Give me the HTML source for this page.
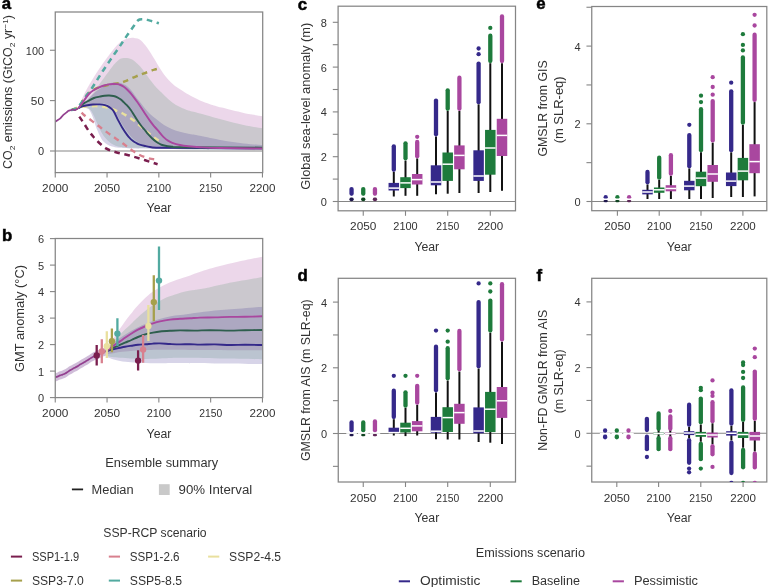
<!DOCTYPE html>
<html><head><meta charset="utf-8"><title>Figure</title>
<style>html,body{margin:0;padding:0;background:#fff;width:768px;height:587px;overflow:hidden}svg{display:block;filter:blur(0.3px)}</style>
</head><body>
<svg width="768" height="587" viewBox="0 0 768 587" font-family='"Liberation Sans", Arial, sans-serif'>
<g>
<clipPath id="ca"><rect x="55.25" y="12" width="207.45" height="160.6"/></clipPath>
<g clip-path="url(#ca)">
<path d="M78.7,108 C79.08,106.83 79.95,103.58 81,101 C82.05,98.42 83.5,95.42 85,92.5 C86.5,89.58 88.25,86.5 90,83.5 C91.75,80.5 93.67,77.37 95.5,74.5 C97.33,71.63 99.17,68.95 101,66.3 C102.83,63.65 104.67,61.12 106.5,58.6 C108.33,56.08 110.25,53.43 112,51.2 C113.75,48.97 115.42,46.85 117,45.2 C118.58,43.55 120,42.33 121.5,41.3 C123,40.27 124.5,39.53 126,39 C127.5,38.47 129.17,38.28 130.5,38.1 C131.83,37.92 132.83,37.82 134,37.9 C135.17,37.98 136.33,38.15 137.5,38.6 C138.67,39.05 139.92,39.73 141,40.6 C142.08,41.47 142.97,42.62 144,43.8 C145.03,44.98 146.03,46.08 147.2,47.7 C148.37,49.32 149.7,51.45 151,53.5 C152.3,55.55 153.6,57.67 155,60 C156.4,62.33 157.9,65.08 159.4,67.5 C160.9,69.92 162.38,72.33 164,74.5 C165.62,76.67 167.27,78.58 169.1,80.5 C170.93,82.42 172.85,84.33 175,86 C177.15,87.67 179.75,89.07 182,90.5 C184.25,91.93 185.5,92.92 188.5,94.6 C191.5,96.28 196.42,99 200,100.6 C203.58,102.2 206.37,103.03 210,104.2 C213.63,105.37 216.2,106.15 221.8,107.6 C227.4,109.05 236.78,111.47 243.6,112.9 C250.42,114.33 259.52,115.65 262.7,116.2 L262.7,149.6 C252.25,149.47 217.12,149.13 200,148.8 C182.88,148.47 168.92,148.1 160,147.6 C151.08,147.1 149.83,146.52 146.5,145.8 C143.17,145.08 141.85,144.18 140,143.3 C138.15,142.42 136.9,141.63 135.4,140.5 C133.9,139.37 132.4,138 131,136.5 C129.6,135 128.5,133.58 127,131.5 C125.5,129.42 123.5,126.42 122,124 C120.5,121.58 119.33,119.25 118,117 C116.67,114.75 115.33,112.3 114,110.5 C112.67,108.7 111.33,107.28 110,106.2 C108.67,105.12 107.67,104.47 106,104 C104.33,103.53 102.67,103.37 100,103.4 C97.33,103.43 92.5,103.85 90,104.2 C87.5,104.55 86.88,104.87 85,105.5 C83.12,106.13 79.75,107.58 78.7,108 Z" fill="#a9479f" fill-opacity="0.22"/>
<path d="M78.7,108 C79.58,107.33 82.35,105.5 84,104 C85.65,102.5 86.7,101.33 88.6,99 C90.5,96.67 93.17,93.08 95.4,90 C97.63,86.92 99.72,83.68 102,80.5 C104.28,77.32 107.1,73.57 109.1,70.9 C111.1,68.23 112.42,66.32 114,64.5 C115.58,62.68 117.27,61.03 118.6,60 C119.93,58.97 120.87,58.65 122,58.3 C123.13,57.95 124.32,57.92 125.4,57.9 C126.48,57.88 127.37,57.93 128.5,58.2 C129.63,58.47 130.95,58.78 132.2,59.5 C133.45,60.22 134.63,61.28 136,62.5 C137.37,63.72 138.98,65.22 140.4,66.8 C141.82,68.38 143.13,70.18 144.5,72 C145.87,73.82 146.85,75.38 148.6,77.7 C150.35,80.02 152.93,83.52 155,85.9 C157.07,88.28 159.17,90.15 161,92 C162.83,93.85 164.12,95.25 166,97 C167.88,98.75 169.97,100.83 172.3,102.5 C174.63,104.17 177.3,105.67 180,107 C182.7,108.33 185.17,109.43 188.5,110.5 C191.83,111.57 194.45,111.92 200,113.4 C205.55,114.88 214.53,117.48 221.8,119.4 C229.07,121.32 236.78,123.43 243.6,124.9 C250.42,126.37 259.52,127.65 262.7,128.2 L262.7,150.1 C252.25,150 217.12,149.73 200,149.5 C182.88,149.27 171.67,148.98 160,148.7 C148.33,148.42 137,148.17 130,147.8 C123,147.43 121.33,147.38 118,146.5 C114.67,145.62 112.17,144 110,142.5 C107.83,141 106.5,139.33 105,137.5 C103.5,135.67 102.33,133.92 101,131.5 C99.67,129.08 98.25,125.75 97,123 C95.75,120.25 94.67,117.25 93.5,115 C92.33,112.75 91.25,110.67 90,109.5 C88.75,108.33 87.88,108.25 86,108 C84.12,107.75 79.92,108 78.7,108 Z" fill="#1e7b3c" fill-opacity="0.16"/>
<path d="M78.7,108 C79.58,107.17 82.12,104.83 84,103 C85.88,101.17 88,98.92 90,97 C92,95.08 93.95,93.13 96,91.5 C98.05,89.87 100.3,88.45 102.3,87.2 C104.3,85.95 106.18,84.77 108,84 C109.82,83.23 111.43,82.83 113.2,82.6 C114.97,82.37 116.97,82.37 118.6,82.6 C120.23,82.83 121.63,83.43 123,84 C124.37,84.57 125.47,85 126.8,86 C128.13,87 129.63,88.42 131,90 C132.37,91.58 133.5,93.5 135,95.5 C136.5,97.5 138.33,99.83 140,102 C141.67,104.17 143.33,106.5 145,108.5 C146.67,110.5 148.13,112.25 150,114 C151.87,115.75 153.87,117.17 156.2,119 C158.53,120.83 161.32,123.28 164,125 C166.68,126.72 169.63,128.17 172.3,129.3 C174.97,130.43 177.3,131.05 180,131.8 C182.7,132.55 185.17,133.13 188.5,133.8 C191.83,134.47 194.45,134.73 200,135.8 C205.55,136.87 214.53,138.93 221.8,140.2 C229.07,141.47 236.78,142.58 243.6,143.4 C250.42,144.22 259.52,144.82 262.7,145.1 L262.7,150.2 C252.25,150.1 217.12,149.82 200,149.6 C182.88,149.38 171.67,149.1 160,148.9 C148.33,148.7 136.87,148.58 130,148.4 C123.13,148.22 121.8,148.12 118.8,147.8 C115.8,147.48 113.85,147 112,146.5 C110.15,146 109.03,145.55 107.7,144.8 C106.37,144.05 105.12,143.13 104,142 C102.88,140.87 102.23,140.25 101,138 C99.77,135.75 97.88,131.75 96.6,128.5 C95.32,125.25 94.4,121.42 93.3,118.5 C92.2,115.58 90.97,112.67 90,111 C89.03,109.33 88.5,109 87.5,108.5 C86.5,108 85.47,108.08 84,108 C82.53,107.92 79.58,108 78.7,108 Z" fill="#35298a" fill-opacity="0.2"/>
<line x1="49.95" y1="151" x2="262.7" y2="151" stroke="#858585" stroke-width="1.1"/>
<path d="M81.6,112.6 C82,113 82.77,113.97 84,115 C85.23,116.03 87.07,117.35 89,118.8 C90.93,120.25 93.43,122.07 95.6,123.7 C97.77,125.33 99.73,126.9 102,128.6 C104.27,130.3 106.87,132.22 109.2,133.9 C111.53,135.58 113.75,137.13 116,138.7 C118.25,140.27 120.7,141.87 122.7,143.3 C124.7,144.73 126.2,145.97 128,147.3 C129.8,148.63 131.67,150.08 133.5,151.3 C135.33,152.52 137.18,153.65 139,154.6 C140.82,155.55 142.57,156.33 144.4,157 C146.23,157.67 148.4,158.23 150,158.6 C151.6,158.97 152.63,159.03 154,159.2 C155.37,159.37 157.5,159.53 158.2,159.6" fill="none" stroke="#d8808e" stroke-width="2.4" stroke-linecap="butt" stroke-linejoin="round" stroke-dasharray="5.6 4.6" stroke-opacity="1"/>
<path d="M79.3,116.6 C80.08,117.75 82.4,121.08 84,123.5 C85.6,125.92 87.3,128.85 88.9,131.1 C90.5,133.35 92.03,135.18 93.6,137 C95.17,138.82 96.82,140.53 98.3,142 C99.78,143.47 101.13,144.68 102.5,145.8 C103.87,146.92 105.08,147.88 106.5,148.7 C107.92,149.52 109.43,150.12 111,150.7 C112.57,151.28 114.07,151.7 115.9,152.2 C117.73,152.7 119.73,153.15 122,153.7 C124.27,154.25 127.17,154.88 129.5,155.5 C131.83,156.12 133.75,156.72 136,157.4 C138.25,158.08 140.67,158.87 143,159.6 C145.33,160.33 147.57,161.03 150,161.8 C152.43,162.57 156.33,163.8 157.6,164.2" fill="none" stroke="#7a1e4e" stroke-width="2.5" stroke-linecap="butt" stroke-linejoin="round" stroke-dasharray="5.6 4.6" stroke-opacity="1"/>
<path d="M72,109.6 C73.12,109.2 76.53,107.7 78.7,107.2 C80.87,106.7 83.12,106.75 85,106.6 C86.88,106.45 88.23,106.38 90,106.3 C91.77,106.22 93.6,106.05 95.6,106.1 C97.6,106.15 99.73,106.27 102,106.6 C104.27,106.93 106.87,107.43 109.2,108.1 C111.53,108.77 113.75,109.7 116,110.6 C118.25,111.5 120.7,112.5 122.7,113.5 C124.7,114.5 126.2,115.47 128,116.6 C129.8,117.73 131.83,119.07 133.5,120.3 C135.17,121.53 136.42,122.65 138,124 C139.58,125.35 141.33,126.97 143,128.4 C144.67,129.83 146.42,131.27 148,132.6 C149.58,133.93 151.07,135.28 152.5,136.4 C153.93,137.52 155.53,138.57 156.6,139.3 C157.67,140.03 158.52,140.55 158.9,140.8" fill="none" stroke="#e9e09e" stroke-width="2.5" stroke-linecap="butt" stroke-linejoin="round" stroke-dasharray="5.6 4.6" stroke-opacity="1"/>
<path d="M72,109.6 C73.12,109.25 76.7,109.27 78.7,107.5 C80.7,105.73 82.3,101.42 84,99 C85.7,96.58 87.23,94.58 88.9,93 C90.57,91.42 92.15,90.5 94,89.5 C95.85,88.5 98,87.67 100,87 C102,86.33 104,85.97 106,85.5 C108,85.03 110.17,84.53 112,84.2 C113.83,83.87 115.5,83.75 117,83.5 C118.5,83.25 119.6,83.1 121,82.7 C122.4,82.3 123.9,81.72 125.4,81.1 C126.9,80.48 128.18,79.8 130,79 C131.82,78.2 134.47,77.05 136.3,76.3 C138.13,75.55 139.18,75.18 141,74.5 C142.82,73.82 145.37,72.88 147.2,72.2 C149.03,71.52 150.7,70.85 152,70.4 C153.3,69.95 153.85,69.82 155,69.5 C156.15,69.18 158.25,68.67 158.9,68.5" fill="none" stroke="#a6a04c" stroke-width="2.5" stroke-linecap="butt" stroke-linejoin="round" stroke-dasharray="5.6 4.6" stroke-opacity="1"/>
<path d="M70.8,110 C71.33,109.88 72.68,109.92 74,109.3 C75.32,108.68 77.03,108.02 78.7,106.3 C80.37,104.58 81.97,101.78 84,99 C86.03,96.22 88.87,92.52 90.9,89.6 C92.93,86.68 94.52,84.13 96.2,81.5 C97.88,78.87 99.37,76.33 101,73.8 C102.63,71.27 104.17,69.02 106,66.3 C107.83,63.58 109.97,60.45 112,57.5 C114.03,54.55 116.45,51.13 118.2,48.6 C119.95,46.07 121.13,44.33 122.5,42.3 C123.87,40.27 125.07,38.35 126.4,36.4 C127.73,34.45 129.18,32.47 130.5,30.6 C131.82,28.73 133.18,26.77 134.3,25.2 C135.42,23.63 136.32,22.15 137.2,21.2 C138.08,20.25 138.8,19.83 139.6,19.5 C140.4,19.17 141.18,19.22 142,19.2 C142.82,19.18 143.63,19.28 144.5,19.4 C145.37,19.52 146.28,19.7 147.2,19.9 C148.12,20.1 148.95,20.32 150,20.6 C151.05,20.88 152.4,21.27 153.5,21.6 C154.6,21.93 155.7,22.32 156.6,22.6 C157.5,22.88 158.52,23.18 158.9,23.3" fill="none" stroke="#52aaa0" stroke-width="2.5" stroke-linecap="butt" stroke-linejoin="round" stroke-dasharray="5.6 4.6" stroke-opacity="1"/>
<path d="M78.7,108 C79.42,107.7 81.53,106.67 83,106.2 C84.47,105.73 85.83,105.48 87.5,105.2 C89.17,104.92 90.97,104.63 93,104.5 C95.03,104.37 97.7,104.3 99.7,104.4 C101.7,104.5 103.62,104.78 105,105.1 C106.38,105.42 107.08,105.82 108,106.3 C108.92,106.78 109.58,107.2 110.5,108 C111.42,108.8 112.28,109.17 113.5,111.1 C114.72,113.03 116.38,116.92 117.8,119.6 C119.22,122.28 120.45,124.65 122,127.2 C123.55,129.75 125.77,133.05 127.1,134.9 C128.43,136.75 129,137.3 130,138.3 C131,139.3 132.1,140.15 133.1,140.9 C134.1,141.65 135.02,142.23 136,142.8 C136.98,143.37 137.5,143.77 139,144.3 C140.5,144.83 143.17,145.55 145,146 C146.83,146.45 147.67,146.72 150,147 C152.33,147.28 150.67,147.52 159,147.7 C167.33,147.88 182.72,148 200,148.1 C217.28,148.2 252.25,148.27 262.7,148.3" fill="none" stroke="#35298a" stroke-width="1.9" stroke-linecap="butt" stroke-linejoin="round" stroke-opacity="1"/>
<path d="M78.7,108 C79.42,107.33 81.3,105.23 83,104 C84.7,102.77 87.07,101.6 88.9,100.6 C90.73,99.6 92.2,98.67 94,98 C95.8,97.33 97.95,96.98 99.7,96.6 C101.45,96.22 102.92,95.88 104.5,95.7 C106.08,95.52 107.7,95.45 109.2,95.5 C110.7,95.55 112.15,95.7 113.5,96 C114.85,96.3 116.13,96.75 117.3,97.3 C118.47,97.85 119.47,98.52 120.5,99.3 C121.53,100.08 122.45,101.02 123.5,102 C124.55,102.98 125.58,103.87 126.8,105.2 C128.02,106.53 129.6,108.37 130.8,110 C132,111.63 132.88,113.25 134,115 C135.12,116.75 136.33,118.75 137.5,120.5 C138.67,122.25 139.85,124 141,125.5 C142.15,127 143.22,128.05 144.4,129.5 C145.58,130.95 146.83,132.75 148.1,134.2 C149.37,135.65 150.65,136.95 152,138.2 C153.35,139.45 154.87,140.73 156.2,141.7 C157.53,142.67 158.67,143.37 160,144 C161.33,144.63 162.2,145.05 164.2,145.5 C166.2,145.95 169.3,146.42 172,146.7 C174.7,146.98 165.28,147.05 180.4,147.2 C195.52,147.35 248.98,147.53 262.7,147.6" fill="none" stroke="#2e5e4e" stroke-width="1.9" stroke-linecap="butt" stroke-linejoin="round" stroke-opacity="1"/>
<path d="M78.7,108 C79.42,107 81.3,104.33 83,102 C84.7,99.67 87.07,96 88.9,94 C90.73,92 92.2,91.15 94,90 C95.8,88.85 98.03,87.85 99.7,87.1 C101.37,86.35 102.53,85.95 104,85.5 C105.47,85.05 107,84.65 108.5,84.4 C110,84.15 111.53,84.05 113,84 C114.47,83.95 116.05,83.93 117.3,84.1 C118.55,84.27 119.42,84.55 120.5,85 C121.58,85.45 122.75,86.08 123.8,86.8 C124.85,87.52 125.77,88.35 126.8,89.3 C127.83,90.25 128.88,91.25 130,92.5 C131.12,93.75 132.25,95.17 133.5,96.8 C134.75,98.43 136.13,100.35 137.5,102.3 C138.87,104.25 140.32,106.42 141.7,108.5 C143.08,110.58 144.45,112.78 145.8,114.8 C147.15,116.82 148.47,118.77 149.8,120.6 C151.13,122.43 152.45,124.17 153.8,125.8 C155.15,127.43 156.7,129 157.9,130.4 C159.1,131.8 159.95,133 161,134.2 C162.05,135.4 163.03,136.53 164.2,137.6 C165.37,138.67 166.65,139.73 168,140.6 C169.35,141.47 170.3,142.07 172.3,142.8 C174.3,143.53 177.3,144.42 180,145 C182.7,145.58 185.17,145.93 188.5,146.3 C191.83,146.67 194.75,146.92 200,147.2 C205.25,147.48 209.55,147.78 220,148 C230.45,148.22 255.58,148.42 262.7,148.5" fill="none" stroke="#a9479f" stroke-width="1.9" stroke-linecap="butt" stroke-linejoin="round" stroke-opacity="1"/>
<path d="M55.25,121.8 C55.62,121.55 56.71,120.83 57.5,120.3 C58.29,119.77 59.17,119.35 60,118.6 C60.83,117.85 61.67,116.63 62.5,115.8 C63.33,114.97 64.25,114.23 65,113.6 C65.75,112.97 66.42,112.47 67,112 C67.58,111.53 67.92,111.1 68.5,110.8 C69.08,110.5 69.82,110.4 70.5,110.2 C71.18,110 71.8,109.62 72.6,109.6 C73.4,109.58 74.57,110.2 75.3,110.1 C76.03,110 76.43,109.35 77,109 C77.57,108.65 78.42,108.17 78.7,108" fill="none" stroke="#93408f" stroke-width="1.7" stroke-linecap="butt" stroke-linejoin="round" stroke-opacity="1"/>
</g>
<rect x="55.25" y="12" width="207.45" height="160.6" fill="none" stroke="#858585" stroke-width="1.25"/>
<line x1="49.95" y1="151" x2="55.25" y2="151" stroke="#858585" stroke-width="1.1"/>
<text x="44.05" y="155.45" font-size="11" text-anchor="end" font-weight="normal" fill="#333">0</text>
<line x1="49.95" y1="100.6" x2="55.25" y2="100.6" stroke="#858585" stroke-width="1.1"/>
<text x="44.05" y="105.05" font-size="11" text-anchor="end" font-weight="normal" fill="#333" textLength="13.2" lengthAdjust="spacingAndGlyphs">50</text>
<line x1="49.95" y1="50.25" x2="55.25" y2="50.25" stroke="#858585" stroke-width="1.1"/>
<text x="44.05" y="54.7" font-size="11" text-anchor="end" font-weight="normal" fill="#333" textLength="18.2" lengthAdjust="spacingAndGlyphs">100</text>
<line x1="55.25" y1="172.6" x2="55.25" y2="177.6" stroke="#858585" stroke-width="1.1"/>
<text x="55.25" y="192.1" font-size="11" text-anchor="middle" font-weight="normal" fill="#333" textLength="26.3" lengthAdjust="spacingAndGlyphs">2000</text>
<line x1="107.05" y1="172.6" x2="107.05" y2="177.6" stroke="#858585" stroke-width="1.1"/>
<text x="107.05" y="192.1" font-size="11" text-anchor="middle" font-weight="normal" fill="#333" textLength="26.3" lengthAdjust="spacingAndGlyphs">2050</text>
<line x1="158.85" y1="172.6" x2="158.85" y2="177.6" stroke="#858585" stroke-width="1.1"/>
<text x="158.85" y="192.1" font-size="11" text-anchor="middle" font-weight="normal" fill="#333" textLength="24.4" lengthAdjust="spacingAndGlyphs">2100</text>
<line x1="210.65" y1="172.6" x2="210.65" y2="177.6" stroke="#858585" stroke-width="1.1"/>
<text x="210.65" y="192.1" font-size="11" text-anchor="middle" font-weight="normal" fill="#333" textLength="23" lengthAdjust="spacingAndGlyphs">2150</text>
<line x1="262.45" y1="172.6" x2="262.45" y2="177.6" stroke="#858585" stroke-width="1.1"/>
<text x="262.45" y="192.1" font-size="11" text-anchor="middle" font-weight="normal" fill="#333" textLength="25.8" lengthAdjust="spacingAndGlyphs">2200</text>
<text x="159" y="212.3" font-size="12" text-anchor="middle" font-weight="normal" fill="#333" textLength="24.8" lengthAdjust="spacingAndGlyphs">Year</text>
<text x="12.3" y="92.05" font-size="12" text-anchor="middle" fill="#333" transform="rotate(-90 12.3 92.05)" textLength="154" lengthAdjust="spacingAndGlyphs">CO<tspan font-size="8" dy="2.5">2</tspan><tspan dy="-2.5"> emissions (GtCO</tspan><tspan font-size="8" dy="2.5">2</tspan><tspan dy="-2.5"> yr</tspan><tspan font-size="8" dy="-4">−1</tspan><tspan dy="4">)</tspan></text>
<text x="1.7" y="9.4" font-size="16.8" font-weight="bold" fill="#000" stroke="#000" stroke-width="0.5">a</text>
</g>
<clipPath id="cb"><rect x="55.25" y="238.5" width="207.45" height="159.1"/></clipPath>
<g clip-path="url(#cb)">
<path d="M55.25,373 C55.62,372.9 56.71,372.7 57.5,372.4 C58.29,372.1 59.17,371.53 60,371.2 C60.83,370.87 61.63,370.72 62.5,370.4 C63.37,370.08 64.37,369.73 65.2,369.3 C66.03,368.87 66.7,368.33 67.5,367.8 C68.3,367.27 69.17,366.6 70,366.1 C70.83,365.6 71.6,365.28 72.5,364.8 C73.4,364.32 74.48,363.7 75.4,363.2 C76.32,362.7 77.23,362.27 78,361.8 C78.77,361.33 79.17,360.9 80,360.4 C80.83,359.9 82.07,359.33 83,358.8 C83.93,358.27 84.77,357.7 85.6,357.2 C86.43,356.7 87.27,356.27 88,355.8 C88.73,355.33 89.33,354.83 90,354.4 C90.67,353.97 91.32,353.58 92,353.2 C92.68,352.82 93.18,352.53 94.1,352.1 C95.02,351.67 96.35,351.12 97.5,350.6 C98.65,350.08 100,349.45 101,349 C102,348.55 102.67,348.23 103.5,347.9 C104.33,347.57 105.58,347.15 106,347 L106,355.4 C105.58,355.55 104.33,355.97 103.5,356.3 C102.67,356.63 102,356.95 101,357.4 C100,357.85 98.65,358.48 97.5,359 C96.35,359.52 95.02,360.07 94.1,360.5 C93.18,360.93 92.68,361.22 92,361.6 C91.32,361.98 90.67,362.37 90,362.8 C89.33,363.23 88.73,363.73 88,364.2 C87.27,364.67 86.43,365.1 85.6,365.6 C84.77,366.1 83.93,366.67 83,367.2 C82.07,367.73 80.83,368.3 80,368.8 C79.17,369.3 78.77,369.73 78,370.2 C77.23,370.67 76.32,371.1 75.4,371.6 C74.48,372.1 73.4,372.72 72.5,373.2 C71.6,373.68 70.83,374 70,374.5 C69.17,375 68.3,375.67 67.5,376.2 C66.7,376.73 66.03,377.27 65.2,377.7 C64.37,378.13 63.37,378.48 62.5,378.8 C61.63,379.12 60.83,379.27 60,379.6 C59.17,379.93 58.29,380.5 57.5,380.8 C56.71,381.1 55.62,381.3 55.25,381.4 Z" fill="#8a5aa0" fill-opacity="0.4"/>
<path d="M106,348 C106.5,347.5 108,346.25 109,345 C110,343.75 110.83,342.25 112,340.5 C113.17,338.75 114.67,336.48 116,334.5 C117.33,332.52 118.5,330.77 120,328.6 C121.5,326.43 123.17,323.97 125,321.5 C126.83,319.03 129.17,316.13 131,313.8 C132.83,311.47 134.15,309.63 136,307.5 C137.85,305.37 140.1,303 142.1,301 C144.1,299 146.18,297.08 148,295.5 C149.82,293.92 150.28,293.25 153,291.5 C155.72,289.75 160.63,286.83 164.3,285 C167.97,283.17 171.32,281.87 175,280.5 C178.68,279.13 181.58,278.47 186.4,276.8 C191.22,275.13 197.02,272.63 203.9,270.5 C210.78,268.37 220.85,265.72 227.7,264 C234.55,262.28 239.17,261.42 245,260.2 C250.83,258.98 259.75,257.28 262.7,256.7 L262.7,350.3 C252.25,350.25 217.12,350.08 200,350 C182.88,349.92 169.67,349.75 160,349.8 C150.33,349.85 146.83,350.1 142,350.3 C137.17,350.5 134.67,350.72 131,351 C127.33,351.28 123.17,351.58 120,352 C116.83,352.42 114.33,353.08 112,353.5 C109.67,353.92 107,354.33 106,354.5 Z" fill="#a9479f" fill-opacity="0.22"/>
<path d="M106,348.5 C106.67,347.92 108.5,346.5 110,345 C111.5,343.5 113.33,341.25 115,339.5 C116.67,337.75 118.33,336.17 120,334.5 C121.67,332.83 123.33,331.08 125,329.5 C126.67,327.92 128.33,326.58 130,325 C131.67,323.42 132.98,321.92 135,320 C137.02,318.08 139.1,316 142.1,313.5 C145.1,311 149.3,307.5 153,305 C156.7,302.5 160.63,300.25 164.3,298.5 C167.97,296.75 171.32,295.72 175,294.5 C178.68,293.28 181.58,292.2 186.4,291.2 C191.22,290.2 197.02,289.83 203.9,288.5 C210.78,287.17 217.9,285.12 227.7,283.2 C237.5,281.28 256.87,278.03 262.7,277 L262.7,359.3 C255.58,359.17 233.78,358.75 220,358.5 C206.22,358.25 190,357.8 180,357.8 C170,357.8 166.33,358.3 160,358.5 C153.67,358.7 146.83,359 142,359 C137.17,359 134.67,358.7 131,358.5 C127.33,358.3 123.17,358.05 120,357.8 C116.83,357.55 114.33,357.38 112,357 C109.67,356.62 107,355.75 106,355.5 Z" fill="#1e7b3c" fill-opacity="0.16"/>
<path d="M106,349 C107,348.17 109.67,345.83 112,344 C114.33,342.17 116.83,340.17 120,338 C123.17,335.83 127.32,333.12 131,331 C134.68,328.88 138.43,326.97 142.1,325.3 C145.77,323.63 149.3,322.27 153,321 C156.7,319.73 160.63,318.6 164.3,317.7 C167.97,316.8 171.32,316.17 175,315.6 C178.68,315.03 181.58,314.93 186.4,314.3 C191.22,313.67 197.02,312.58 203.9,311.8 C210.78,311.02 217.9,310.43 227.7,309.6 C237.5,308.77 256.87,307.27 262.7,306.8 L262.7,364.1 C255.58,364 233.78,363.68 220,363.5 C206.22,363.32 190,363.05 180,363 C170,362.95 166.33,363.2 160,363.2 C153.67,363.2 146.83,363.15 142,363 C137.17,362.85 134.67,362.63 131,362.3 C127.33,361.97 123.17,361.55 120,361 C116.83,360.45 114.33,359.75 112,359 C109.67,358.25 107,356.92 106,356.5 Z" fill="#35298a" fill-opacity="0.2"/>
<path d="M106,351.2 C106.67,351.03 108.67,350.53 110,350.2 C111.33,349.87 112.33,349.6 114,349.2 C115.67,348.8 118.17,348.22 120,347.8 C121.83,347.38 123.08,347.05 125,346.7 C126.92,346.35 129.33,346.02 131.5,345.7 C133.67,345.38 135.58,345.05 138,344.8 C140.42,344.55 143.5,344.4 146,344.2 C148.5,344 150.67,343.73 153,343.6 C155.33,343.47 157.17,343.33 160,343.4 C162.83,343.47 166.67,343.83 170,344 C173.33,344.17 176.67,344.37 180,344.4 C183.33,344.43 186.67,344.17 190,344.2 C193.33,344.23 195.83,344.57 200,344.6 C204.17,344.63 210,344.33 215,344.4 C220,344.47 225,344.93 230,345 C235,345.07 239.55,344.8 245,344.8 C250.45,344.8 259.75,344.97 262.7,345" fill="none" stroke="#35298a" stroke-width="1.9" stroke-linecap="butt" stroke-linejoin="round" stroke-opacity="1"/>
<path d="M106,351.2 C106.67,350.92 108.67,350.15 110,349.5 C111.33,348.85 112.33,348.08 114,347.3 C115.67,346.52 118.17,345.58 120,344.8 C121.83,344.02 123.08,343.4 125,342.6 C126.92,341.8 129.33,340.93 131.5,340 C133.67,339.07 135.58,337.97 138,337 C140.42,336.03 143.5,334.93 146,334.2 C148.5,333.47 150.67,333.05 153,332.6 C155.33,332.15 157.17,331.8 160,331.5 C162.83,331.2 166.67,330.98 170,330.8 C173.33,330.62 175.83,330.43 180,330.4 C184.17,330.37 190,330.63 195,330.6 C200,330.57 204.17,330.2 210,330.2 C215.83,330.2 224.17,330.6 230,330.6 C235.83,330.6 239.55,330.3 245,330.2 C250.45,330.1 259.75,330.03 262.7,330" fill="none" stroke="#2e5e4e" stroke-width="1.9" stroke-linecap="butt" stroke-linejoin="round" stroke-opacity="1"/>
<path d="M106,351.2 C106.67,350.72 108.67,349.27 110,348.3 C111.33,347.33 112.33,346.55 114,345.4 C115.67,344.25 118.17,342.67 120,341.4 C121.83,340.13 123.08,339.12 125,337.8 C126.92,336.48 129.33,334.87 131.5,333.5 C133.67,332.13 135.58,330.85 138,329.6 C140.42,328.35 143.5,327.03 146,326 C148.5,324.97 150.67,324.17 153,323.4 C155.33,322.63 157.17,322.03 160,321.4 C162.83,320.77 166.67,320.03 170,319.6 C173.33,319.17 176.67,319.02 180,318.8 C183.33,318.58 186.67,318.5 190,318.3 C193.33,318.1 195.83,317.75 200,317.6 C204.17,317.45 210,317.52 215,317.4 C220,317.28 225,317 230,316.9 C235,316.8 239.55,316.9 245,316.8 C250.45,316.7 259.75,316.38 262.7,316.3" fill="none" stroke="#a9479f" stroke-width="1.9" stroke-linecap="butt" stroke-linejoin="round" stroke-opacity="1"/>
<path d="M55.25,377.2 C55.62,377.1 56.71,376.9 57.5,376.6 C58.29,376.3 59.17,375.73 60,375.4 C60.83,375.07 61.63,374.92 62.5,374.6 C63.37,374.28 64.37,373.93 65.2,373.5 C66.03,373.07 66.7,372.53 67.5,372 C68.3,371.47 69.17,370.8 70,370.3 C70.83,369.8 71.6,369.48 72.5,369 C73.4,368.52 74.48,367.9 75.4,367.4 C76.32,366.9 77.23,366.47 78,366 C78.77,365.53 79.17,365.1 80,364.6 C80.83,364.1 82.07,363.53 83,363 C83.93,362.47 84.77,361.9 85.6,361.4 C86.43,360.9 87.27,360.47 88,360 C88.73,359.53 89.33,359.03 90,358.6 C90.67,358.17 91.32,357.78 92,357.4 C92.68,357.02 93.18,356.73 94.1,356.3 C95.02,355.87 96.35,355.32 97.5,354.8 C98.65,354.28 100,353.65 101,353.2 C102,352.75 102.67,352.43 103.5,352.1 C104.33,351.77 105.58,351.35 106,351.2" fill="none" stroke="#93408f" stroke-width="1.7" stroke-linecap="butt" stroke-linejoin="round" stroke-opacity="1"/>
<line x1="106.8" y1="331.3" x2="106.8" y2="358.1" stroke="#e9e09e" stroke-width="2.3"/>
<circle cx="106.8" cy="346.3" r="3.2" fill="#e9e09e"/>
<line x1="101.8" y1="339.3" x2="101.8" y2="363.2" stroke="#d8808e" stroke-width="2.3"/>
<circle cx="101.8" cy="351.4" r="3.2" fill="#d8808e"/>
<line x1="96.7" y1="345" x2="96.7" y2="365.5" stroke="#7a1e4e" stroke-width="2.3"/>
<circle cx="96.7" cy="355.4" r="3.2" fill="#7a1e4e"/>
<line x1="111.9" y1="328.4" x2="111.9" y2="352.3" stroke="#a6a04c" stroke-width="2.3"/>
<circle cx="111.9" cy="341.2" r="3.2" fill="#a6a04c"/>
<line x1="117.4" y1="318.2" x2="117.4" y2="346" stroke="#52aaa0" stroke-width="2.3"/>
<circle cx="117.4" cy="333.6" r="3.2" fill="#52aaa0"/>
<line x1="148.4" y1="305" x2="148.4" y2="341" stroke="#e9e09e" stroke-width="2.3"/>
<circle cx="148.4" cy="326" r="3.2" fill="#e9e09e"/>
<line x1="143.1" y1="335" x2="143.1" y2="362.8" stroke="#d8808e" stroke-width="2.3"/>
<circle cx="143.1" cy="349.6" r="3.2" fill="#d8808e"/>
<line x1="138.1" y1="350.3" x2="138.1" y2="370.6" stroke="#7a1e4e" stroke-width="2.3"/>
<circle cx="138.1" cy="360.6" r="3.2" fill="#7a1e4e"/>
<line x1="153.8" y1="275.3" x2="153.8" y2="321.2" stroke="#a6a04c" stroke-width="2.3"/>
<circle cx="153.8" cy="302.1" r="3.2" fill="#a6a04c"/>
<line x1="159" y1="246.6" x2="159" y2="310" stroke="#52aaa0" stroke-width="2.3"/>
<circle cx="159" cy="280.6" r="3.2" fill="#52aaa0"/>
</g>
<rect x="55.25" y="238.5" width="207.45" height="159.1" fill="none" stroke="#858585" stroke-width="1.25"/>
<line x1="49.95" y1="397.6" x2="55.25" y2="397.6" stroke="#858585" stroke-width="1.1"/>
<text x="44.05" y="402.05" font-size="11" text-anchor="end" font-weight="normal" fill="#333">0</text>
<line x1="49.95" y1="371.1" x2="55.25" y2="371.1" stroke="#858585" stroke-width="1.1"/>
<text x="44.05" y="375.55" font-size="11" text-anchor="end" font-weight="normal" fill="#333">1</text>
<line x1="49.95" y1="344.6" x2="55.25" y2="344.6" stroke="#858585" stroke-width="1.1"/>
<text x="44.05" y="349.05" font-size="11" text-anchor="end" font-weight="normal" fill="#333">2</text>
<line x1="49.95" y1="318.1" x2="55.25" y2="318.1" stroke="#858585" stroke-width="1.1"/>
<text x="44.05" y="322.55" font-size="11" text-anchor="end" font-weight="normal" fill="#333">3</text>
<line x1="49.95" y1="291.6" x2="55.25" y2="291.6" stroke="#858585" stroke-width="1.1"/>
<text x="44.05" y="296.05" font-size="11" text-anchor="end" font-weight="normal" fill="#333">4</text>
<line x1="49.95" y1="265.1" x2="55.25" y2="265.1" stroke="#858585" stroke-width="1.1"/>
<text x="44.05" y="269.55" font-size="11" text-anchor="end" font-weight="normal" fill="#333">5</text>
<line x1="49.95" y1="238.6" x2="55.25" y2="238.6" stroke="#858585" stroke-width="1.1"/>
<text x="44.05" y="243.05" font-size="11" text-anchor="end" font-weight="normal" fill="#333">6</text>
<line x1="55.25" y1="397.6" x2="55.25" y2="402.6" stroke="#858585" stroke-width="1.1"/>
<text x="55.25" y="417.1" font-size="11" text-anchor="middle" font-weight="normal" fill="#333" textLength="26.3" lengthAdjust="spacingAndGlyphs">2000</text>
<line x1="107.05" y1="397.6" x2="107.05" y2="402.6" stroke="#858585" stroke-width="1.1"/>
<text x="107.05" y="417.1" font-size="11" text-anchor="middle" font-weight="normal" fill="#333" textLength="26.3" lengthAdjust="spacingAndGlyphs">2050</text>
<line x1="158.85" y1="397.6" x2="158.85" y2="402.6" stroke="#858585" stroke-width="1.1"/>
<text x="158.85" y="417.1" font-size="11" text-anchor="middle" font-weight="normal" fill="#333" textLength="24.4" lengthAdjust="spacingAndGlyphs">2100</text>
<line x1="210.65" y1="397.6" x2="210.65" y2="402.6" stroke="#858585" stroke-width="1.1"/>
<text x="210.65" y="417.1" font-size="11" text-anchor="middle" font-weight="normal" fill="#333" textLength="23" lengthAdjust="spacingAndGlyphs">2150</text>
<line x1="262.45" y1="397.6" x2="262.45" y2="402.6" stroke="#858585" stroke-width="1.1"/>
<text x="262.45" y="417.1" font-size="11" text-anchor="middle" font-weight="normal" fill="#333" textLength="25.8" lengthAdjust="spacingAndGlyphs">2200</text>
<text x="159" y="437.6" font-size="12" text-anchor="middle" font-weight="normal" fill="#333" textLength="24.8" lengthAdjust="spacingAndGlyphs">Year</text>
<text x="24.4" y="318.5" font-size="12" text-anchor="middle" font-weight="normal" fill="#333" transform="rotate(-90 24.4 318.5)" textLength="107" lengthAdjust="spacingAndGlyphs">GMT anomaly (°C)</text>
<text x="1.9" y="241.4" font-size="16.8" font-weight="bold" fill="#000" stroke="#000" stroke-width="0.5">b</text>
<text x="161.75" y="467.3" font-size="12" text-anchor="middle" font-weight="normal" fill="#333" textLength="113" lengthAdjust="spacingAndGlyphs">Ensemble summary</text>
<line x1="71.9" y1="489.4" x2="83.1" y2="489.4" stroke="#222" stroke-width="1.8"/>
<text x="91.6" y="494.4" font-size="12" text-anchor="start" font-weight="normal" fill="#333" textLength="42" lengthAdjust="spacingAndGlyphs">Median</text>
<rect x="158.9" y="484.2" width="10.8" height="10.8" fill="#c9c9c9"/>
<text x="178.6" y="494.4" font-size="12" text-anchor="start" font-weight="normal" fill="#333" textLength="73.6" lengthAdjust="spacingAndGlyphs">90% Interval</text>
<text x="155" y="537.3" font-size="12" text-anchor="middle" font-weight="normal" fill="#333" textLength="103.3" lengthAdjust="spacingAndGlyphs">SSP-RCP scenario</text>
<line x1="10.9" y1="556.6" x2="22.1" y2="556.6" stroke="#7a1e4e" stroke-width="2"/>
<text x="31.9" y="560.8" font-size="12" text-anchor="start" font-weight="normal" fill="#333" textLength="47.3" lengthAdjust="spacingAndGlyphs">SSP1-1.9</text>
<line x1="108.8" y1="556.6" x2="120" y2="556.6" stroke="#d8808e" stroke-width="2"/>
<text x="129.8" y="560.8" font-size="12" text-anchor="start" font-weight="normal" fill="#333" textLength="49.8" lengthAdjust="spacingAndGlyphs">SSP1-2.6</text>
<line x1="208.1" y1="556.6" x2="219.3" y2="556.6" stroke="#e9e09e" stroke-width="2"/>
<text x="229.1" y="560.8" font-size="12" text-anchor="start" font-weight="normal" fill="#333" textLength="52" lengthAdjust="spacingAndGlyphs">SSP2-4.5</text>
<line x1="10.9" y1="580.6" x2="22.1" y2="580.6" stroke="#a6a04c" stroke-width="2"/>
<text x="31.9" y="584.8" font-size="12" text-anchor="start" font-weight="normal" fill="#333" textLength="52" lengthAdjust="spacingAndGlyphs">SSP3-7.0</text>
<line x1="108.8" y1="580.6" x2="120" y2="580.6" stroke="#52aaa0" stroke-width="2"/>
<text x="129.8" y="584.8" font-size="12" text-anchor="start" font-weight="normal" fill="#333" textLength="52.3" lengthAdjust="spacingAndGlyphs">SSP5-8.5</text>
<rect x="338.1" y="6.2" width="177.4" height="204.6" fill="none" stroke="#858585" stroke-width="1.25"/>
<line x1="338.1" y1="201.5" x2="515.5" y2="201.5" stroke="#858585" stroke-width="1.1"/>
<line x1="332.8" y1="201.5" x2="338.1" y2="201.5" stroke="#858585" stroke-width="1.1"/>
<text x="326.9" y="205.95" font-size="11" text-anchor="end" font-weight="normal" fill="#333">0</text>
<line x1="332.8" y1="179.1" x2="338.1" y2="179.1" stroke="#858585" stroke-width="1.1"/>
<line x1="332.8" y1="156.7" x2="338.1" y2="156.7" stroke="#858585" stroke-width="1.1"/>
<text x="326.9" y="161.15" font-size="11" text-anchor="end" font-weight="normal" fill="#333">2</text>
<line x1="332.8" y1="134.3" x2="338.1" y2="134.3" stroke="#858585" stroke-width="1.1"/>
<line x1="332.8" y1="111.9" x2="338.1" y2="111.9" stroke="#858585" stroke-width="1.1"/>
<text x="326.9" y="116.35" font-size="11" text-anchor="end" font-weight="normal" fill="#333">4</text>
<line x1="332.8" y1="89.5" x2="338.1" y2="89.5" stroke="#858585" stroke-width="1.1"/>
<line x1="332.8" y1="67.1" x2="338.1" y2="67.1" stroke="#858585" stroke-width="1.1"/>
<text x="326.9" y="71.55" font-size="11" text-anchor="end" font-weight="normal" fill="#333">6</text>
<line x1="332.8" y1="44.7" x2="338.1" y2="44.7" stroke="#858585" stroke-width="1.1"/>
<line x1="332.8" y1="22.3" x2="338.1" y2="22.3" stroke="#858585" stroke-width="1.1"/>
<text x="326.9" y="26.75" font-size="11" text-anchor="end" font-weight="normal" fill="#333">8</text>
<line x1="363.25" y1="210.8" x2="363.25" y2="215.8" stroke="#858585" stroke-width="1.1"/>
<text x="363.25" y="230.3" font-size="11" text-anchor="middle" font-weight="normal" fill="#333" textLength="26.3" lengthAdjust="spacingAndGlyphs">2050</text>
<line x1="405.5" y1="210.8" x2="405.5" y2="215.8" stroke="#858585" stroke-width="1.1"/>
<text x="405.5" y="230.3" font-size="11" text-anchor="middle" font-weight="normal" fill="#333" textLength="24.4" lengthAdjust="spacingAndGlyphs">2100</text>
<line x1="447.7" y1="210.8" x2="447.7" y2="215.8" stroke="#858585" stroke-width="1.1"/>
<text x="447.7" y="230.3" font-size="11" text-anchor="middle" font-weight="normal" fill="#333" textLength="23" lengthAdjust="spacingAndGlyphs">2150</text>
<line x1="490.3" y1="210.8" x2="490.3" y2="215.8" stroke="#858585" stroke-width="1.1"/>
<text x="490.3" y="230.3" font-size="11" text-anchor="middle" font-weight="normal" fill="#333" textLength="25.8" lengthAdjust="spacingAndGlyphs">2200</text>
<text x="426.8" y="250.8" font-size="12" text-anchor="middle" font-weight="normal" fill="#333" textLength="24.8" lengthAdjust="spacingAndGlyphs">Year</text>
<text x="309.6" y="106.15" font-size="12" text-anchor="middle" font-weight="normal" fill="#333" transform="rotate(-90 309.6 106.15)" textLength="167" lengthAdjust="spacingAndGlyphs">Global sea-level anomaly (m)</text>
<text x="297.8" y="9.5" font-size="16.8" font-weight="bold" fill="#000" stroke="#000" stroke-width="0.5">c</text>
<line x1="393.8" y1="172" x2="393.8" y2="196.5" stroke="#111" stroke-width="2"/>
<rect x="391.65" y="144.2" width="4.3" height="27.8" rx="2.15" fill="#35298a"/>
<rect x="388.55" y="182.9" width="10.5" height="7.6" fill="#35298a"/>
<line x1="388.55" y1="188.1" x2="399.05" y2="188.1" stroke="#fff" stroke-width="1.5"/>
<line x1="405.5" y1="160.5" x2="405.5" y2="195.8" stroke="#111" stroke-width="2"/>
<rect x="403.35" y="141.2" width="4.3" height="19.3" rx="2.15" fill="#1e7b3c"/>
<rect x="400.25" y="177.2" width="10.5" height="10.9" fill="#1e7b3c"/>
<line x1="400.25" y1="182.9" x2="410.75" y2="182.9" stroke="#fff" stroke-width="1.5"/>
<line x1="417.2" y1="158.4" x2="417.2" y2="195.8" stroke="#111" stroke-width="2"/>
<rect x="415.05" y="139.8" width="4.3" height="18.6" rx="2.15" fill="#a9479f"/>
<circle cx="417.2" cy="136.8" r="2.15" fill="#a9479f"/>
<rect x="411.95" y="174" width="10.5" height="10.5" fill="#a9479f"/>
<line x1="411.95" y1="179.6" x2="422.45" y2="179.6" stroke="#fff" stroke-width="1.5"/>
<line x1="436" y1="136.5" x2="436" y2="194.2" stroke="#111" stroke-width="2"/>
<rect x="433.85" y="98.4" width="4.3" height="38.1" rx="2.15" fill="#35298a"/>
<rect x="430.75" y="165.3" width="10.5" height="20" fill="#35298a"/>
<line x1="430.75" y1="182" x2="441.25" y2="182" stroke="#fff" stroke-width="1.5"/>
<line x1="447.7" y1="111" x2="447.7" y2="193.7" stroke="#111" stroke-width="2"/>
<rect x="445.55" y="88.2" width="4.3" height="22.8" rx="2.15" fill="#1e7b3c"/>
<rect x="442.45" y="152.5" width="10.5" height="28.4" fill="#1e7b3c"/>
<line x1="442.45" y1="164.2" x2="452.95" y2="164.2" stroke="#fff" stroke-width="1.5"/>
<line x1="459.4" y1="111" x2="459.4" y2="193" stroke="#111" stroke-width="2"/>
<rect x="457.25" y="75.5" width="4.3" height="35.5" rx="2.15" fill="#a9479f"/>
<rect x="454.15" y="145.4" width="10.5" height="23.9" fill="#a9479f"/>
<line x1="454.15" y1="155.4" x2="464.65" y2="155.4" stroke="#fff" stroke-width="1.5"/>
<line x1="478.6" y1="104.3" x2="478.6" y2="193" stroke="#111" stroke-width="2"/>
<rect x="476.45" y="61.4" width="4.3" height="42.9" rx="2.15" fill="#35298a"/>
<circle cx="478.6" cy="48.5" r="2.15" fill="#35298a"/>
<circle cx="478.6" cy="54.2" r="2.15" fill="#35298a"/>
<rect x="473.35" y="150.3" width="10.5" height="30.6" fill="#35298a"/>
<line x1="473.35" y1="176" x2="483.85" y2="176" stroke="#fff" stroke-width="1.5"/>
<line x1="490.3" y1="63.2" x2="490.3" y2="192" stroke="#111" stroke-width="2"/>
<rect x="488.15" y="33.6" width="4.3" height="29.6" rx="2.15" fill="#1e7b3c"/>
<circle cx="490.3" cy="27.9" r="2.15" fill="#1e7b3c"/>
<rect x="485.05" y="129.9" width="10.5" height="44.8" fill="#1e7b3c"/>
<line x1="485.05" y1="148" x2="495.55" y2="148" stroke="#fff" stroke-width="1.5"/>
<line x1="502" y1="63.2" x2="502" y2="190.8" stroke="#111" stroke-width="2"/>
<rect x="499.85" y="14.3" width="4.3" height="48.9" rx="2.15" fill="#a9479f"/>
<rect x="496.75" y="118.8" width="10.5" height="37.2" fill="#a9479f"/>
<line x1="496.75" y1="135.4" x2="507.25" y2="135.4" stroke="#fff" stroke-width="1.5"/>
<rect x="591.75" y="6.5" width="175.05" height="204.2" fill="none" stroke="#858585" stroke-width="1.25"/>
<line x1="591.75" y1="201.5" x2="766.8" y2="201.5" stroke="#858585" stroke-width="1.1"/>
<line x1="586.45" y1="201.5" x2="591.75" y2="201.5" stroke="#858585" stroke-width="1.1"/>
<text x="580.55" y="205.95" font-size="11" text-anchor="end" font-weight="normal" fill="#333">0</text>
<line x1="586.45" y1="162.65" x2="591.75" y2="162.65" stroke="#858585" stroke-width="1.1"/>
<line x1="586.45" y1="123.8" x2="591.75" y2="123.8" stroke="#858585" stroke-width="1.1"/>
<text x="580.55" y="128.25" font-size="11" text-anchor="end" font-weight="normal" fill="#333">2</text>
<line x1="586.45" y1="84.95" x2="591.75" y2="84.95" stroke="#858585" stroke-width="1.1"/>
<line x1="586.45" y1="46.1" x2="591.75" y2="46.1" stroke="#858585" stroke-width="1.1"/>
<text x="580.55" y="50.55" font-size="11" text-anchor="end" font-weight="normal" fill="#333">4</text>
<line x1="586.45" y1="7.25" x2="591.75" y2="7.25" stroke="#858585" stroke-width="1.1"/>
<line x1="617.4" y1="210.7" x2="617.4" y2="215.7" stroke="#858585" stroke-width="1.1"/>
<text x="617.4" y="230.2" font-size="11" text-anchor="middle" font-weight="normal" fill="#333" textLength="26.3" lengthAdjust="spacingAndGlyphs">2050</text>
<line x1="659.2" y1="210.7" x2="659.2" y2="215.7" stroke="#858585" stroke-width="1.1"/>
<text x="659.2" y="230.2" font-size="11" text-anchor="middle" font-weight="normal" fill="#333" textLength="24.4" lengthAdjust="spacingAndGlyphs">2100</text>
<line x1="701" y1="210.7" x2="701" y2="215.7" stroke="#858585" stroke-width="1.1"/>
<text x="701" y="230.2" font-size="11" text-anchor="middle" font-weight="normal" fill="#333" textLength="23" lengthAdjust="spacingAndGlyphs">2150</text>
<line x1="742.9" y1="210.7" x2="742.9" y2="215.7" stroke="#858585" stroke-width="1.1"/>
<text x="742.9" y="230.2" font-size="11" text-anchor="middle" font-weight="normal" fill="#333" textLength="25.8" lengthAdjust="spacingAndGlyphs">2200</text>
<text x="679.27" y="250.7" font-size="12" text-anchor="middle" font-weight="normal" fill="#333" textLength="24.8" lengthAdjust="spacingAndGlyphs">Year</text>
<text x="546.8" y="108.45" font-size="12" text-anchor="middle" font-weight="normal" fill="#333" transform="rotate(-90 546.8 108.45)" textLength="96.2" lengthAdjust="spacingAndGlyphs">GMSLR from GIS</text>
<text x="562.7" y="109.85" font-size="12" text-anchor="middle" font-weight="normal" fill="#333" transform="rotate(-90 562.7 109.85)" textLength="67" lengthAdjust="spacingAndGlyphs">(m SLR-eq)</text>
<text x="536.3" y="9.2" font-size="16.8" font-weight="bold" fill="#000" stroke="#000" stroke-width="0.5">e</text>
<line x1="647.5" y1="184.4" x2="647.5" y2="199" stroke="#111" stroke-width="2"/>
<rect x="645.35" y="169.8" width="4.3" height="14.6" rx="2.15" fill="#35298a"/>
<rect x="642.25" y="189.8" width="10.5" height="4.6" fill="#35298a"/>
<line x1="642.25" y1="192" x2="652.75" y2="192" stroke="#fff" stroke-width="1.5"/>
<line x1="659.2" y1="179.8" x2="659.2" y2="199" stroke="#111" stroke-width="2"/>
<rect x="657.05" y="155.6" width="4.3" height="24.2" rx="2.15" fill="#1e7b3c"/>
<rect x="653.95" y="187.5" width="10.5" height="5.3" fill="#1e7b3c"/>
<line x1="653.95" y1="189.8" x2="664.45" y2="189.8" stroke="#fff" stroke-width="1.5"/>
<line x1="670.9" y1="176" x2="670.9" y2="199" stroke="#111" stroke-width="2"/>
<rect x="668.75" y="153" width="4.3" height="23" rx="2.15" fill="#a9479f"/>
<rect x="665.65" y="185.2" width="10.5" height="6.1" fill="#a9479f"/>
<line x1="665.65" y1="188.5" x2="676.15" y2="188.5" stroke="#fff" stroke-width="1.5"/>
<line x1="689.3" y1="168.4" x2="689.3" y2="199" stroke="#111" stroke-width="2"/>
<rect x="687.15" y="132.9" width="4.3" height="35.5" rx="2.15" fill="#35298a"/>
<circle cx="689.3" cy="124.8" r="2.15" fill="#35298a"/>
<rect x="684.05" y="180.8" width="10.5" height="9.5" fill="#35298a"/>
<line x1="684.05" y1="186.1" x2="694.55" y2="186.1" stroke="#fff" stroke-width="1.5"/>
<line x1="701" y1="152.3" x2="701" y2="199" stroke="#111" stroke-width="2"/>
<rect x="698.85" y="107" width="4.3" height="45.3" rx="2.15" fill="#1e7b3c"/>
<circle cx="701" cy="95.7" r="2.15" fill="#1e7b3c"/>
<circle cx="701" cy="102.1" r="2.15" fill="#1e7b3c"/>
<rect x="695.75" y="171.7" width="10.5" height="14.5" fill="#1e7b3c"/>
<line x1="695.75" y1="178.1" x2="706.25" y2="178.1" stroke="#fff" stroke-width="1.5"/>
<line x1="712.7" y1="142.6" x2="712.7" y2="198" stroke="#111" stroke-width="2"/>
<rect x="710.55" y="98.9" width="4.3" height="43.7" rx="2.15" fill="#a9479f"/>
<circle cx="712.7" cy="77.2" r="2.15" fill="#a9479f"/>
<circle cx="712.7" cy="87" r="2.15" fill="#a9479f"/>
<circle cx="712.7" cy="94.7" r="2.15" fill="#a9479f"/>
<rect x="707.45" y="165" width="10.5" height="16.8" fill="#a9479f"/>
<line x1="707.45" y1="174" x2="717.95" y2="174" stroke="#fff" stroke-width="1.5"/>
<line x1="731.2" y1="152.3" x2="731.2" y2="197" stroke="#111" stroke-width="2"/>
<rect x="729.05" y="89.2" width="4.3" height="63.1" rx="2.15" fill="#35298a"/>
<circle cx="731.2" cy="82.7" r="2.15" fill="#35298a"/>
<rect x="725.95" y="172.5" width="10.5" height="13.6" fill="#35298a"/>
<line x1="725.95" y1="181.1" x2="736.45" y2="181.1" stroke="#fff" stroke-width="1.5"/>
<line x1="742.9" y1="124.8" x2="742.9" y2="197" stroke="#111" stroke-width="2"/>
<rect x="740.75" y="55.3" width="4.3" height="69.5" rx="2.15" fill="#1e7b3c"/>
<circle cx="742.9" cy="34.2" r="2.15" fill="#1e7b3c"/>
<circle cx="742.9" cy="44.9" r="2.15" fill="#1e7b3c"/>
<circle cx="742.9" cy="50.4" r="2.15" fill="#1e7b3c"/>
<rect x="737.65" y="157.9" width="10.5" height="22.4" fill="#1e7b3c"/>
<line x1="737.65" y1="171.1" x2="748.15" y2="171.1" stroke="#fff" stroke-width="1.5"/>
<line x1="754.6" y1="102.1" x2="754.6" y2="196.4" stroke="#111" stroke-width="2"/>
<rect x="752.45" y="32.6" width="4.3" height="69.5" rx="2.15" fill="#a9479f"/>
<circle cx="754.6" cy="14.8" r="2.15" fill="#a9479f"/>
<circle cx="754.6" cy="25.5" r="2.15" fill="#a9479f"/>
<rect x="749.35" y="144.2" width="10.5" height="29" fill="#a9479f"/>
<line x1="749.35" y1="161.6" x2="759.85" y2="161.6" stroke="#fff" stroke-width="1.5"/>
<rect x="338.25" y="278.3" width="177.25" height="203.7" fill="none" stroke="#858585" stroke-width="1.25"/>
<line x1="338.25" y1="433.5" x2="515.5" y2="433.5" stroke="#858585" stroke-width="1.1"/>
<line x1="332.95" y1="466.35" x2="338.25" y2="466.35" stroke="#858585" stroke-width="1.1"/>
<line x1="332.95" y1="433.5" x2="338.25" y2="433.5" stroke="#858585" stroke-width="1.1"/>
<text x="327.05" y="437.95" font-size="11" text-anchor="end" font-weight="normal" fill="#333">0</text>
<line x1="332.95" y1="400.65" x2="338.25" y2="400.65" stroke="#858585" stroke-width="1.1"/>
<line x1="332.95" y1="367.8" x2="338.25" y2="367.8" stroke="#858585" stroke-width="1.1"/>
<text x="327.05" y="372.25" font-size="11" text-anchor="end" font-weight="normal" fill="#333">2</text>
<line x1="332.95" y1="334.95" x2="338.25" y2="334.95" stroke="#858585" stroke-width="1.1"/>
<line x1="332.95" y1="302.1" x2="338.25" y2="302.1" stroke="#858585" stroke-width="1.1"/>
<text x="327.05" y="306.55" font-size="11" text-anchor="end" font-weight="normal" fill="#333">4</text>
<line x1="363.25" y1="482" x2="363.25" y2="487" stroke="#858585" stroke-width="1.1"/>
<text x="363.25" y="501.5" font-size="11" text-anchor="middle" font-weight="normal" fill="#333" textLength="26.3" lengthAdjust="spacingAndGlyphs">2050</text>
<line x1="405.5" y1="482" x2="405.5" y2="487" stroke="#858585" stroke-width="1.1"/>
<text x="405.5" y="501.5" font-size="11" text-anchor="middle" font-weight="normal" fill="#333" textLength="24.4" lengthAdjust="spacingAndGlyphs">2100</text>
<line x1="447.7" y1="482" x2="447.7" y2="487" stroke="#858585" stroke-width="1.1"/>
<text x="447.7" y="501.5" font-size="11" text-anchor="middle" font-weight="normal" fill="#333" textLength="23" lengthAdjust="spacingAndGlyphs">2150</text>
<line x1="490.3" y1="482" x2="490.3" y2="487" stroke="#858585" stroke-width="1.1"/>
<text x="490.3" y="501.5" font-size="11" text-anchor="middle" font-weight="normal" fill="#333" textLength="25.8" lengthAdjust="spacingAndGlyphs">2200</text>
<text x="426.88" y="522" font-size="12" text-anchor="middle" font-weight="normal" fill="#333" textLength="24.8" lengthAdjust="spacingAndGlyphs">Year</text>
<text x="309.8" y="380.2" font-size="12" text-anchor="middle" font-weight="normal" fill="#333" transform="rotate(-90 309.8 380.2)" textLength="161.7" lengthAdjust="spacingAndGlyphs">GMSLR from AIS (m SLR-eq)</text>
<text x="297.6" y="281" font-size="16.8" font-weight="bold" fill="#000" stroke="#000" stroke-width="0.5">d</text>
<line x1="393.8" y1="419.2" x2="393.8" y2="435.5" stroke="#111" stroke-width="2"/>
<rect x="391.65" y="388.5" width="4.3" height="30.7" rx="2.15" fill="#35298a"/>
<circle cx="393.8" cy="375.8" r="2.15" fill="#35298a"/>
<rect x="388.55" y="427.7" width="10.5" height="4.5" fill="#35298a"/>
<line x1="388.55" y1="432.6" x2="399.05" y2="432.6" stroke="#fff" stroke-width="1.5"/>
<line x1="405.5" y1="407.8" x2="405.5" y2="436.1" stroke="#111" stroke-width="2"/>
<rect x="403.35" y="390.2" width="4.3" height="17.6" rx="2.15" fill="#1e7b3c"/>
<circle cx="405.5" cy="375.8" r="2.15" fill="#1e7b3c"/>
<rect x="400.25" y="422.7" width="10.5" height="9.8" fill="#1e7b3c"/>
<line x1="400.25" y1="428.3" x2="410.75" y2="428.3" stroke="#fff" stroke-width="1.5"/>
<line x1="417.2" y1="405" x2="417.2" y2="435.5" stroke="#111" stroke-width="2"/>
<rect x="415.05" y="383.7" width="4.3" height="21.3" rx="2.15" fill="#a9479f"/>
<circle cx="417.2" cy="375.8" r="2.15" fill="#a9479f"/>
<rect x="411.95" y="421.1" width="10.5" height="10.2" fill="#a9479f"/>
<line x1="411.95" y1="425.9" x2="422.45" y2="425.9" stroke="#fff" stroke-width="1.5"/>
<line x1="436" y1="392.4" x2="436" y2="439.3" stroke="#111" stroke-width="2"/>
<rect x="433.85" y="344.6" width="4.3" height="47.8" rx="2.15" fill="#35298a"/>
<circle cx="436" cy="330.6" r="2.15" fill="#35298a"/>
<rect x="430.75" y="416.9" width="10.5" height="15.8" fill="#35298a"/>
<line x1="430.75" y1="431.2" x2="441.25" y2="431.2" stroke="#fff" stroke-width="1.5"/>
<line x1="447.7" y1="380.5" x2="447.7" y2="439.5" stroke="#111" stroke-width="2"/>
<rect x="445.55" y="346.1" width="4.3" height="34.4" rx="2.15" fill="#1e7b3c"/>
<circle cx="447.7" cy="330.6" r="2.15" fill="#1e7b3c"/>
<circle cx="447.7" cy="341.7" r="2.15" fill="#1e7b3c"/>
<rect x="442.45" y="407.2" width="10.5" height="24.8" fill="#1e7b3c"/>
<line x1="442.45" y1="417.6" x2="452.95" y2="417.6" stroke="#fff" stroke-width="1.5"/>
<line x1="459.4" y1="371.5" x2="459.4" y2="439.5" stroke="#111" stroke-width="2"/>
<rect x="457.25" y="328.8" width="4.3" height="42.7" rx="2.15" fill="#a9479f"/>
<rect x="454.15" y="403.8" width="10.5" height="20" fill="#a9479f"/>
<line x1="454.15" y1="412.6" x2="464.65" y2="412.6" stroke="#fff" stroke-width="1.5"/>
<line x1="478.6" y1="368.5" x2="478.6" y2="442" stroke="#111" stroke-width="2"/>
<rect x="476.45" y="299.9" width="4.3" height="68.6" rx="2.15" fill="#35298a"/>
<circle cx="478.6" cy="283.4" r="2.15" fill="#35298a"/>
<rect x="473.35" y="407.4" width="10.5" height="25.9" fill="#35298a"/>
<line x1="473.35" y1="431" x2="483.85" y2="431" stroke="#fff" stroke-width="1.5"/>
<line x1="490.3" y1="332.7" x2="490.3" y2="442.7" stroke="#111" stroke-width="2"/>
<rect x="488.15" y="298.4" width="4.3" height="34.3" rx="2.15" fill="#1e7b3c"/>
<circle cx="490.3" cy="283.4" r="2.15" fill="#1e7b3c"/>
<circle cx="490.3" cy="291.5" r="2.15" fill="#1e7b3c"/>
<rect x="485.05" y="391.9" width="10.5" height="40.2" fill="#1e7b3c"/>
<line x1="485.05" y1="409.2" x2="495.55" y2="409.2" stroke="#fff" stroke-width="1.5"/>
<line x1="502" y1="341.7" x2="502" y2="444" stroke="#111" stroke-width="2"/>
<rect x="499.85" y="282" width="4.3" height="59.7" rx="2.15" fill="#a9479f"/>
<rect x="496.75" y="387" width="10.5" height="30.9" fill="#a9479f"/>
<line x1="496.75" y1="400.8" x2="507.25" y2="400.8" stroke="#fff" stroke-width="1.5"/>
<clipPath id="cf"><rect x="591.75" y="278.3" width="175" height="203.7"/></clipPath>
<g clip-path="url(#cf)">
</g>
<rect x="591.75" y="278.3" width="175.05" height="203.7" fill="none" stroke="#858585" stroke-width="1.25"/>
<line x1="591.75" y1="433.3" x2="766.8" y2="433.3" stroke="#858585" stroke-width="1.1"/>
<line x1="586.45" y1="466.15" x2="591.75" y2="466.15" stroke="#858585" stroke-width="1.1"/>
<line x1="586.45" y1="433.3" x2="591.75" y2="433.3" stroke="#858585" stroke-width="1.1"/>
<text x="580.55" y="437.75" font-size="11" text-anchor="end" font-weight="normal" fill="#333">0</text>
<line x1="586.45" y1="400.45" x2="591.75" y2="400.45" stroke="#858585" stroke-width="1.1"/>
<line x1="586.45" y1="367.6" x2="591.75" y2="367.6" stroke="#858585" stroke-width="1.1"/>
<text x="580.55" y="372.05" font-size="11" text-anchor="end" font-weight="normal" fill="#333">2</text>
<line x1="586.45" y1="334.75" x2="591.75" y2="334.75" stroke="#858585" stroke-width="1.1"/>
<line x1="586.45" y1="301.9" x2="591.75" y2="301.9" stroke="#858585" stroke-width="1.1"/>
<text x="580.55" y="306.35" font-size="11" text-anchor="end" font-weight="normal" fill="#333">4</text>
<line x1="616.8" y1="482" x2="616.8" y2="487" stroke="#858585" stroke-width="1.1"/>
<text x="616.8" y="501.5" font-size="11" text-anchor="middle" font-weight="normal" fill="#333" textLength="26.3" lengthAdjust="spacingAndGlyphs">2050</text>
<line x1="658.6" y1="482" x2="658.6" y2="487" stroke="#858585" stroke-width="1.1"/>
<text x="658.6" y="501.5" font-size="11" text-anchor="middle" font-weight="normal" fill="#333" textLength="24.4" lengthAdjust="spacingAndGlyphs">2100</text>
<line x1="700.8" y1="482" x2="700.8" y2="487" stroke="#858585" stroke-width="1.1"/>
<text x="700.8" y="501.5" font-size="11" text-anchor="middle" font-weight="normal" fill="#333" textLength="23" lengthAdjust="spacingAndGlyphs">2150</text>
<line x1="743.1" y1="482" x2="743.1" y2="487" stroke="#858585" stroke-width="1.1"/>
<text x="743.1" y="501.5" font-size="11" text-anchor="middle" font-weight="normal" fill="#333" textLength="25.8" lengthAdjust="spacingAndGlyphs">2200</text>
<text x="679.27" y="522" font-size="12" text-anchor="middle" font-weight="normal" fill="#333" textLength="24.8" lengthAdjust="spacingAndGlyphs">Year</text>
<text x="546.8" y="380.2" font-size="12" text-anchor="middle" font-weight="normal" fill="#333" transform="rotate(-90 546.8 380.2)" textLength="141" lengthAdjust="spacingAndGlyphs">Non-FD GMSLR from AIS</text>
<text x="562.7" y="381.35" font-size="12" text-anchor="middle" font-weight="normal" fill="#333" transform="rotate(-90 562.7 381.35)" textLength="63.8" lengthAdjust="spacingAndGlyphs">(m SLR-eq)</text>
<text x="536.5" y="280.8" font-size="16.8" font-weight="bold" fill="#000" stroke="#000" stroke-width="0.5">f</text>
<g clip-path="url(#cf)">
<rect x="644.75" y="416.7" width="4.3" height="15.5" rx="2.15" fill="#35298a"/>
<rect x="644.75" y="434.6" width="4.3" height="16.7" rx="2.15" fill="#35298a"/>
<circle cx="646.9" cy="457" r="2.15" fill="#35298a"/>
<line x1="658.6" y1="429" x2="658.6" y2="437" stroke="#111" stroke-width="2"/>
<rect x="656.45" y="411.3" width="4.3" height="19.7" rx="2.15" fill="#1e7b3c"/>
<rect x="656.45" y="436" width="4.3" height="15.3" rx="2.15" fill="#1e7b3c"/>
<rect x="653.35" y="432.6" width="10.5" height="1.8" fill="#1e7b3c"/>
<line x1="653.35" y1="433.4" x2="663.85" y2="433.4" stroke="#fff" stroke-width="1.5"/>
<line x1="670.3" y1="429" x2="670.3" y2="437" stroke="#111" stroke-width="2"/>
<rect x="668.15" y="414.3" width="4.3" height="16.7" rx="2.15" fill="#a9479f"/>
<rect x="668.15" y="436" width="4.3" height="15.3" rx="2.15" fill="#a9479f"/>
<circle cx="670.3" cy="411" r="2.15" fill="#a9479f"/>
<rect x="665.05" y="432.6" width="10.5" height="1.8" fill="#a9479f"/>
<line x1="665.05" y1="433.4" x2="675.55" y2="433.4" stroke="#fff" stroke-width="1.5"/>
<line x1="689.1" y1="427" x2="689.1" y2="438" stroke="#111" stroke-width="2"/>
<rect x="686.95" y="402.5" width="4.3" height="24.5" rx="2.15" fill="#35298a"/>
<rect x="686.95" y="438" width="4.3" height="27" rx="2.15" fill="#35298a"/>
<circle cx="689.1" cy="468.6" r="2.15" fill="#35298a"/>
<circle cx="689.1" cy="472.3" r="2.15" fill="#35298a"/>
<rect x="683.85" y="431.2" width="10.5" height="3.9" fill="#35298a"/>
<line x1="683.85" y1="433.1" x2="694.35" y2="433.1" stroke="#fff" stroke-width="1.5"/>
<line x1="700.8" y1="424.5" x2="700.8" y2="441.7" stroke="#111" stroke-width="2"/>
<rect x="698.65" y="396.4" width="4.3" height="28.1" rx="2.15" fill="#1e7b3c"/>
<rect x="698.65" y="441.7" width="4.3" height="19.6" rx="2.15" fill="#1e7b3c"/>
<circle cx="700.8" cy="387.8" r="2.15" fill="#1e7b3c"/>
<circle cx="700.8" cy="390.2" r="2.15" fill="#1e7b3c"/>
<circle cx="700.8" cy="468.6" r="2.15" fill="#1e7b3c"/>
<rect x="695.55" y="431.9" width="10.5" height="4.9" fill="#1e7b3c"/>
<line x1="695.55" y1="434.2" x2="706.05" y2="434.2" stroke="#fff" stroke-width="1.5"/>
<line x1="712.5" y1="423.3" x2="712.5" y2="444.1" stroke="#111" stroke-width="2"/>
<rect x="710.35" y="400" width="4.3" height="23.3" rx="2.15" fill="#a9479f"/>
<rect x="710.35" y="444.1" width="4.3" height="12.3" rx="2.15" fill="#a9479f"/>
<circle cx="712.5" cy="380.4" r="2.15" fill="#a9479f"/>
<circle cx="712.5" cy="392.7" r="2.15" fill="#a9479f"/>
<circle cx="712.5" cy="395.9" r="2.15" fill="#a9479f"/>
<circle cx="712.5" cy="466.9" r="2.15" fill="#a9479f"/>
<rect x="707.25" y="432.6" width="10.5" height="4.9" fill="#a9479f"/>
<line x1="707.25" y1="435" x2="717.75" y2="435" stroke="#fff" stroke-width="1.5"/>
<line x1="731.4" y1="425.8" x2="731.4" y2="440.5" stroke="#111" stroke-width="2"/>
<rect x="729.25" y="388.3" width="4.3" height="37.5" rx="2.15" fill="#35298a"/>
<rect x="729.25" y="440.5" width="4.3" height="34.7" rx="2.15" fill="#35298a"/>
<circle cx="731.4" cy="483" r="2.15" fill="#35298a"/>
<rect x="726.15" y="431.2" width="10.5" height="4.4" fill="#35298a"/>
<line x1="726.15" y1="433.3" x2="736.65" y2="433.3" stroke="#fff" stroke-width="1.5"/>
<line x1="743.1" y1="422.1" x2="743.1" y2="447.8" stroke="#111" stroke-width="2"/>
<rect x="740.95" y="385.3" width="4.3" height="36.8" rx="2.15" fill="#1e7b3c"/>
<rect x="740.95" y="447.8" width="4.3" height="21.7" rx="2.15" fill="#1e7b3c"/>
<circle cx="743.1" cy="362.5" r="2.15" fill="#1e7b3c"/>
<circle cx="743.1" cy="365" r="2.15" fill="#1e7b3c"/>
<circle cx="743.1" cy="371.9" r="2.15" fill="#1e7b3c"/>
<circle cx="743.1" cy="378" r="2.15" fill="#1e7b3c"/>
<circle cx="743.1" cy="483" r="2.15" fill="#1e7b3c"/>
<rect x="737.85" y="431.9" width="10.5" height="6.1" fill="#1e7b3c"/>
<line x1="737.85" y1="434.5" x2="748.35" y2="434.5" stroke="#fff" stroke-width="1.5"/>
<line x1="754.8" y1="420.9" x2="754.8" y2="451.5" stroke="#111" stroke-width="2"/>
<rect x="752.65" y="369.4" width="4.3" height="51.5" rx="2.15" fill="#a9479f"/>
<rect x="752.65" y="451.5" width="4.3" height="18.1" rx="2.15" fill="#a9479f"/>
<circle cx="754.8" cy="348.6" r="2.15" fill="#a9479f"/>
<circle cx="754.8" cy="357.2" r="2.15" fill="#a9479f"/>
<circle cx="754.8" cy="483" r="2.15" fill="#a9479f"/>
<rect x="749.55" y="431.9" width="10.5" height="8.6" fill="#a9479f"/>
<line x1="749.55" y1="436" x2="760.05" y2="436" stroke="#fff" stroke-width="1.5"/>
</g>
<rect x="349.4" y="186.9" width="4.3" height="9" rx="2.15" fill="#35298a"/>
<rect x="349.4" y="197.3" width="4.3" height="4" rx="2" fill="#1d164b"/>
<line x1="346.3" y1="196.6" x2="356.8" y2="196.6" stroke="#fff" stroke-width="1.4"/>
<rect x="361.1" y="186.9" width="4.3" height="9" rx="2.15" fill="#1e7b3c"/>
<rect x="361.1" y="197.3" width="4.3" height="4" rx="2" fill="#104321"/>
<line x1="358" y1="196.6" x2="368.5" y2="196.6" stroke="#fff" stroke-width="1.4"/>
<rect x="372.8" y="186.9" width="4.3" height="9" rx="2.15" fill="#a9479f"/>
<rect x="372.8" y="197.3" width="4.3" height="4" rx="2" fill="#5c2757"/>
<line x1="369.7" y1="196.6" x2="380.2" y2="196.6" stroke="#fff" stroke-width="1.4"/>
<rect x="603.55" y="195" width="4.3" height="4.3" rx="2.15" fill="#35298a"/>
<rect x="603.55" y="199.9" width="4.3" height="2.3" rx="1.15" fill="#1d164b"/>
<line x1="600.45" y1="199.2" x2="610.95" y2="199.2" stroke="#fff" stroke-width="1.4"/>
<rect x="615.25" y="195" width="4.3" height="4.3" rx="2.15" fill="#1e7b3c"/>
<rect x="615.25" y="199.9" width="4.3" height="2.3" rx="1.15" fill="#104321"/>
<line x1="612.15" y1="199.2" x2="622.65" y2="199.2" stroke="#fff" stroke-width="1.4"/>
<rect x="626.95" y="195" width="4.3" height="4.3" rx="2.15" fill="#a9479f"/>
<rect x="626.95" y="199.9" width="4.3" height="2.3" rx="1.15" fill="#5c2757"/>
<line x1="623.85" y1="199.2" x2="634.35" y2="199.2" stroke="#fff" stroke-width="1.4"/>
<rect x="349.4" y="420.3" width="4.3" height="12.1" rx="2.15" fill="#35298a"/>
<rect x="349.4" y="433.9" width="4.3" height="2.3" rx="1.15" fill="#1d164b"/>
<line x1="346.3" y1="433.15" x2="356.8" y2="433.15" stroke="#fff" stroke-width="1.4"/>
<rect x="361.1" y="420.3" width="4.3" height="12.1" rx="2.15" fill="#1e7b3c"/>
<rect x="361.1" y="433.9" width="4.3" height="2.3" rx="1.15" fill="#104321"/>
<line x1="358" y1="433.15" x2="368.5" y2="433.15" stroke="#fff" stroke-width="1.4"/>
<rect x="372.8" y="419.3" width="4.3" height="13.1" rx="2.15" fill="#a9479f"/>
<rect x="372.8" y="433.9" width="4.3" height="2.3" rx="1.15" fill="#5c2757"/>
<line x1="369.7" y1="433.15" x2="380.2" y2="433.15" stroke="#fff" stroke-width="1.4"/>
<rect x="602.95" y="428.3" width="4.3" height="4.6" rx="2.15" fill="#35298a"/>
<rect x="602.95" y="434.3" width="4.3" height="5.2" rx="2.15" fill="#35298a"/>
<line x1="599.85" y1="433.6" x2="610.35" y2="433.6" stroke="#fff" stroke-width="1.4"/>
<rect x="614.65" y="428.3" width="4.3" height="4.6" rx="2.15" fill="#1e7b3c"/>
<rect x="614.65" y="434.3" width="4.3" height="5.2" rx="2.15" fill="#1e7b3c"/>
<line x1="611.55" y1="433.6" x2="622.05" y2="433.6" stroke="#fff" stroke-width="1.4"/>
<rect x="626.35" y="428.3" width="4.3" height="4.6" rx="2.15" fill="#a9479f"/>
<rect x="626.35" y="434.3" width="4.3" height="5.2" rx="2.15" fill="#a9479f"/>
<line x1="623.25" y1="433.6" x2="633.75" y2="433.6" stroke="#fff" stroke-width="1.4"/>
<text x="530.4" y="557" font-size="12" text-anchor="middle" font-weight="normal" fill="#333" textLength="109.1" lengthAdjust="spacingAndGlyphs">Emissions scenario</text>
<line x1="398.8" y1="581.3" x2="410" y2="581.3" stroke="#35298a" stroke-width="2"/>
<text x="420" y="585" font-size="12" text-anchor="start" font-weight="normal" fill="#333" textLength="60.3" lengthAdjust="spacingAndGlyphs">Optimistic</text>
<line x1="510.5" y1="581.3" x2="521.7" y2="581.3" stroke="#1e7b3c" stroke-width="2"/>
<text x="531.7" y="585" font-size="12" text-anchor="start" font-weight="normal" fill="#333" textLength="48.2" lengthAdjust="spacingAndGlyphs">Baseline</text>
<line x1="612.7" y1="581.3" x2="623.9" y2="581.3" stroke="#a9479f" stroke-width="2"/>
<text x="633.9" y="585" font-size="12" text-anchor="start" font-weight="normal" fill="#333" textLength="64.1" lengthAdjust="spacingAndGlyphs">Pessimistic</text>
</svg>
</body></html>
